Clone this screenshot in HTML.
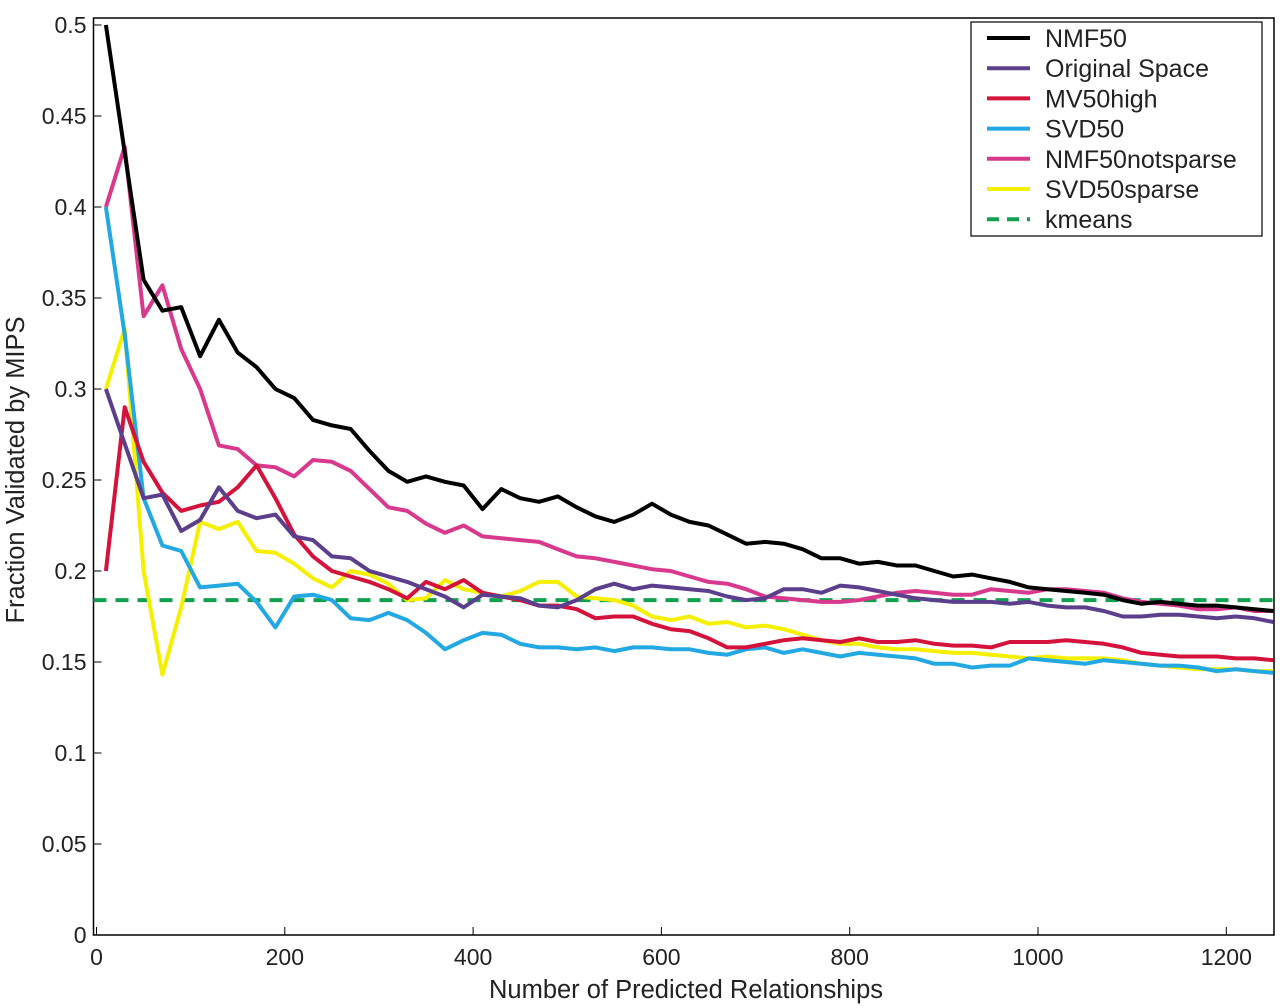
<!DOCTYPE html>
<html><head><meta charset="utf-8"><style>
html,body{margin:0;padding:0;background:#fff;}
svg{display:block;font-family:"Liberation Sans",sans-serif;}
</style></head><body>
<svg id="chart" width="1280" height="1008"></svg>
<script>
const xs=[];for(let v=10;v<=1250;v+=20)xs.push(v);
const nmf50=[0.5,0.43,0.36,0.343,0.345,0.318,0.338,0.32,0.312,0.30,0.295,0.283,0.28,0.278,0.266,0.255,0.249,0.252,0.249,0.247,0.234,0.245,0.24,0.238,0.241,0.235,0.23,0.227,0.231,0.237,0.231,0.227,0.225,0.22,0.215,0.216,0.215,0.212,0.207,0.207,0.204,0.205,0.203,0.203,0.2,0.197,0.198,0.196,0.194,0.191,0.19,0.189,0.188,0.187,0.184,0.182,0.183,0.182,0.181,0.181,0.18,0.179,0.178];
const origSpace=[0.3,0.27,0.24,0.242,0.222,0.228,0.246,0.233,0.229,0.231,0.219,0.217,0.208,0.207,0.2,0.197,0.194,0.19,0.186,0.18,0.187,0.186,0.185,0.181,0.18,0.184,0.19,0.193,0.19,0.192,0.191,0.19,0.189,0.186,0.184,0.185,0.19,0.19,0.188,0.192,0.191,0.189,0.187,0.185,0.184,0.183,0.183,0.183,0.182,0.183,0.181,0.18,0.18,0.178,0.175,0.175,0.176,0.176,0.175,0.174,0.175,0.174,0.172];
const mv50high=[0.2,0.29,0.26,0.243,0.233,0.236,0.238,0.246,0.258,0.24,0.22,0.208,0.2,0.197,0.194,0.19,0.185,0.194,0.19,0.195,0.188,0.186,0.184,0.181,0.181,0.179,0.174,0.175,0.175,0.171,0.168,0.167,0.163,0.158,0.158,0.16,0.162,0.163,0.162,0.161,0.163,0.161,0.161,0.162,0.16,0.159,0.159,0.158,0.161,0.161,0.161,0.162,0.161,0.16,0.158,0.155,0.154,0.153,0.153,0.153,0.152,0.152,0.151];
const svd50=[0.4,0.33,0.24,0.214,0.211,0.191,0.192,0.193,0.183,0.169,0.186,0.187,0.184,0.174,0.173,0.177,0.173,0.166,0.157,0.162,0.166,0.165,0.16,0.158,0.158,0.157,0.158,0.156,0.158,0.158,0.157,0.157,0.155,0.154,0.157,0.158,0.155,0.157,0.155,0.153,0.155,0.154,0.153,0.152,0.149,0.149,0.147,0.148,0.148,0.152,0.151,0.15,0.149,0.151,0.15,0.149,0.148,0.148,0.147,0.145,0.146,0.145,0.144];
const nmfNotSparse=[0.4,0.433,0.34,0.357,0.322,0.3,0.269,0.267,0.258,0.257,0.252,0.261,0.26,0.255,0.245,0.235,0.233,0.226,0.221,0.225,0.219,0.218,0.217,0.216,0.212,0.208,0.207,0.205,0.203,0.201,0.2,0.197,0.194,0.193,0.19,0.186,0.185,0.184,0.183,0.183,0.184,0.186,0.188,0.189,0.188,0.187,0.187,0.19,0.189,0.188,0.19,0.19,0.189,0.188,0.185,0.183,0.182,0.181,0.179,0.179,0.18,0.178,0.178];
const svdSparse=[0.3,0.333,0.2,0.143,0.18,0.227,0.223,0.227,0.211,0.21,0.204,0.196,0.191,0.2,0.198,0.193,0.184,0.185,0.195,0.19,0.188,0.186,0.189,0.194,0.194,0.186,0.185,0.184,0.181,0.175,0.173,0.175,0.171,0.172,0.169,0.17,0.168,0.165,0.162,0.16,0.16,0.158,0.157,0.157,0.156,0.155,0.155,0.154,0.153,0.152,0.153,0.152,0.152,0.152,0.151,0.149,0.148,0.147,0.146,0.146,0.146,0.145,0.145];
const kmeansValue=0.184;
const xTicks=[0,200,400,600,800,1000,1200];
const yTicks=[0,0.05,0.1,0.15,0.2,0.25,0.3,0.35,0.4,0.45,0.5];
const seriesNames=["NMF50","Original Space","MV50high","SVD50","NMF50notsparse","SVD50sparse"];
const seriesData=[nmf50,origSpace,mv50high,svd50,nmfNotSparse,svdSparse];
const colors=["#000000","#5b3f8c","#d4123c","#22a8e2","#d8398c","#f4f000"];

const NS="http://www.w3.org/2000/svg";
const svg=document.getElementById('chart');
const L=96.5,R=1274,T=18,B=935;
const X=v=>L+v*0.9415;
const Y=v=>B-v*1820;
function mk(tag,attrs,parent){const e=document.createElementNS(NS,tag);for(const k in attrs)e.setAttribute(k,attrs[k]);(parent||svg).appendChild(e);return e;}

const frame=mk('rect',{x:L-3,y:T,width:R-L+3,height:B-T,fill:'none',stroke:'#000','stroke-width':1.5});



xTicks.forEach(t=>{
  const tk=mk('line',{x1:X(t),x2:X(t),y1:B,y2:B-8,stroke:'#000','stroke-width':1});
  
  
  const tx=mk('text',{x:X(t),y:B+30,'text-anchor':'middle','font-size':23,fill:'#222'});
  tx.textContent=t;
  
  
});
yTicks.forEach(t=>{
  const tk=mk('line',{x1:L-3,x2:L+5,y1:Y(t),y2:Y(t),stroke:'#000','stroke-width':1});
  
  
  const tx=mk('text',{x:L-10,y:Y(t)+8,'text-anchor':'end','font-size':23,fill:'#222'});
  tx.textContent=t;
  
  
});
const xt=mk('text',{x:686,y:998,'text-anchor':'middle','font-size':25.5,fill:'#222'});
xt.textContent='Number of Predicted Relationships';


const yt=mk('text',{x:0,y:0,'text-anchor':'middle','font-size':25.5,fill:'#222',transform:'translate(24,470) rotate(-90)'});
yt.textContent='Fraction Validated by MIPS';



const km=mk('line',{x1:L-3,x2:R,y1:Y(kmeansValue),y2:Y(kmeansValue),stroke:'#12a050','stroke-width':4,'stroke-dasharray':'13,9'});



[5,4,3,2,1,0].forEach(i=>{
  const d=seriesData[i].map((v,j)=>(j?'L':'M')+X(xs[j]).toFixed(1)+','+Y(v).toFixed(1)).join(' ');
  const p=mk('path',{d:d,fill:'none',stroke:colors[i],'stroke-width':4,'stroke-linejoin':'round'});
  
  
});

const lg=mk('g',{});


mk('rect',{x:971,y:22,width:291,height:214,fill:'#fff',stroke:'#000','stroke-width':1.2},lg);
const names=seriesNames.concat(['kmeans']);
const cols=colors.concat(['#12a050']);
names.forEach((n,i)=>{
  const y=38+i*30.2;
  const ln=mk('line',{x1:987,x2:1030,y1:y,y2:y,stroke:cols[i],'stroke-width':4,'stroke-dasharray':i===6?'12,8':'none'},lg);
  
  
  const tx=mk('text',{x:1045,y:y+9,'font-size':25,fill:'#222'},lg);
  tx.textContent=n;
  
  
});
</script>
</body></html>
